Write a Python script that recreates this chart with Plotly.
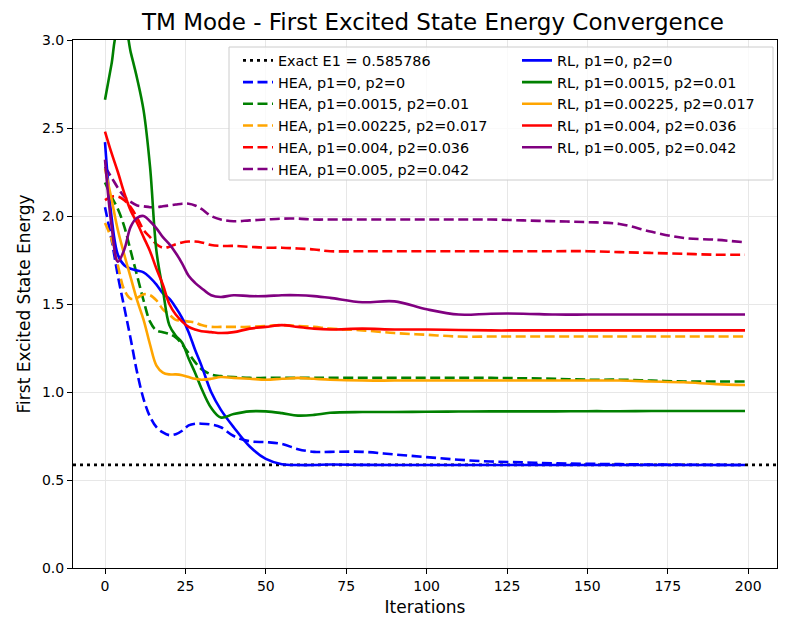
import plotly.graph_objects as go

# ---------------- data ----------------
ITER = [0, 2, 4, 6, 8, 10, 12, 14, 16, 18, 20, 22, 24, 26, 28, 30, 33, 36, 40, 45,
        50, 55, 60, 65, 70, 80, 90, 100, 110, 120, 130, 140, 150, 160, 170, 180, 190, 199]

EXACT_E1 = 0.585786

HEA_0 = [2.05, 1.87, 1.66, 1.48, 1.30, 1.11, 0.96, 0.86, 0.80, 0.77, 0.755, 0.76, 0.78, 0.81,
         0.82, 0.82, 0.815, 0.80, 0.75, 0.72, 0.715, 0.705, 0.675, 0.66, 0.66, 0.66, 0.645,
         0.63, 0.615, 0.605, 0.60, 0.595, 0.592, 0.59, 0.588, 0.587, 0.586, 0.585]
HEA_1 = [2.19, 2.11, 2.04, 1.94, 1.80, 1.66, 1.52, 1.40, 1.35, 1.34, 1.33, 1.31, 1.27, 1.22,
         1.17, 1.13, 1.10, 1.09, 1.085, 1.08, 1.08, 1.08, 1.08, 1.08, 1.08, 1.08, 1.08,
         1.08, 1.08, 1.08, 1.078, 1.075, 1.07, 1.07, 1.065, 1.06, 1.06, 1.06]
HEA_2 = [1.96, 1.87, 1.72, 1.58, 1.53, 1.535, 1.555, 1.55, 1.52, 1.47, 1.44, 1.41, 1.405, 1.40,
         1.395, 1.38, 1.37, 1.37, 1.37, 1.37, 1.375, 1.38, 1.375, 1.37, 1.36, 1.35, 1.335,
         1.325, 1.315, 1.315, 1.315, 1.315, 1.315, 1.315, 1.315, 1.315, 1.315, 1.315]
HEA_3 = [2.09, 2.11, 2.11, 2.09, 2.05, 1.99, 1.92, 1.88, 1.84, 1.82, 1.825, 1.84, 1.85, 1.855,
         1.855, 1.85, 1.835, 1.83, 1.83, 1.825, 1.82, 1.82, 1.815, 1.81, 1.80, 1.80, 1.80,
         1.80, 1.80, 1.80, 1.80, 1.80, 1.80, 1.795, 1.79, 1.785, 1.78, 1.78]
HEA_4 = [2.28, 2.22, 2.16, 2.11, 2.08, 2.06, 2.055, 2.05, 2.05, 2.055, 2.06, 2.065, 2.07, 2.07,
         2.06, 2.04, 2.00, 1.98, 1.97, 1.975, 1.98, 1.985, 1.985, 1.98, 1.98, 1.98, 1.98,
         1.98, 1.98, 1.98, 1.975, 1.97, 1.965, 1.955, 1.91, 1.875, 1.865, 1.85]

RL_0 = [2.42, 2.00, 1.78, 1.72, 1.70, 1.69, 1.68, 1.65, 1.61, 1.56, 1.53, 1.48, 1.42, 1.34,
        1.24, 1.15, 1.00, 0.90, 0.80, 0.69, 0.62, 0.59, 0.585, 0.585, 0.588, 0.586, 0.585,
        0.585, 0.585, 0.585, 0.585, 0.585, 0.585, 0.585, 0.585, 0.585, 0.585, 0.585]
RL_1 = [2.66, 2.86, 3.06, 3.08, 2.93, 2.78, 2.60, 2.28, 1.80, 1.58, 1.38, 1.32, 1.28, 1.19,
        1.11, 1.02, 0.91, 0.855, 0.875, 0.89, 0.89, 0.88, 0.866, 0.87, 0.882, 0.886, 0.886,
        0.888, 0.889, 0.89, 0.89, 0.89, 0.891, 0.891, 0.892, 0.892, 0.892, 0.892]
RL_2 = [2.27, 2.10, 1.92, 1.78, 1.65, 1.52, 1.41, 1.27, 1.15, 1.11, 1.10, 1.10, 1.095, 1.085,
        1.075, 1.07, 1.075, 1.085, 1.08, 1.075, 1.07, 1.075, 1.08, 1.075, 1.07, 1.065, 1.065,
        1.065, 1.065, 1.065, 1.065, 1.065, 1.065, 1.065, 1.06, 1.055, 1.045, 1.04]
RL_3 = [2.48, 2.36, 2.25, 2.13, 2.03, 1.96, 1.88, 1.80, 1.70, 1.61, 1.50, 1.44, 1.40, 1.37,
        1.355, 1.345, 1.34, 1.335, 1.34, 1.36, 1.37, 1.38, 1.37, 1.36, 1.355, 1.36, 1.355,
        1.355, 1.352, 1.35, 1.35, 1.35, 1.35, 1.35, 1.35, 1.35, 1.35, 1.35]
RL_4 = [2.32, 1.95, 1.74, 1.81, 1.94, 1.99, 2.00, 1.97, 1.93, 1.88, 1.84, 1.79, 1.73, 1.66,
        1.62, 1.59, 1.55, 1.54, 1.55, 1.545, 1.545, 1.55, 1.55, 1.545, 1.535, 1.51, 1.515,
        1.47, 1.44, 1.445, 1.445, 1.44, 1.44, 1.44, 1.44, 1.44, 1.44, 1.44]

NOISE_LABELS = ["p1=0, p2=0", "p1=0.0015, p2=0.01", "p1=0.00225, p2=0.017",
                "p1=0.004, p2=0.036", "p1=0.005, p2=0.042"]
COLORS = ["#0000ff", "#008000", "#ffa500", "#ff0000", "#800080"]
HEA = [HEA_0, HEA_1, HEA_2, HEA_3, HEA_4]
RL = [RL_0, RL_1, RL_2, RL_3, RL_4]

TITLE = "TM Mode - First Excited State Energy Convergence"
X_LABEL = "Iterations"
Y_LABEL = "First Excited State Energy"

# ---------------- figure ----------------
W, H = 793, 634
ML, MR, MT, MB = 73, 16, 40, 66
pad = 0.05 * (max(ITER) - min(ITER))
x_range = [min(ITER) - pad, max(ITER) + pad]

FONT = "DejaVu Sans"
fig = go.Figure()

fig.add_trace(go.Scatter(
    x=x_range, y=[EXACT_E1, EXACT_E1], mode="lines",
    line=dict(color="black", width=2.6, dash="3px,4px"),
    name=f"Exact E1 = {EXACT_E1:.6f}", legend="legend"))

for vals, lab, col in zip(HEA, NOISE_LABELS, COLORS):
    fig.add_trace(go.Scatter(
        x=ITER, y=vals, mode="lines", line_shape="spline",
        line=dict(color=col, width=2.6, dash="10px,4.5px", smoothing=1.0),
        name=f"HEA, {lab}", legend="legend"))

for vals, lab, col in zip(RL, NOISE_LABELS, COLORS):
    fig.add_trace(go.Scatter(
        x=ITER, y=vals, mode="lines", line_shape="spline",
        line=dict(color=col, width=2.6, smoothing=1.0),
        name=f"RL, {lab}", legend="legend2"))

pw = W - ML - MR
ph = H - MT - MB


def px_x(p):
    return (p - ML) / pw


def px_y(p):
    return (H - MB - p) / ph


legend_common = dict(
    bgcolor="rgba(0,0,0,0)", borderwidth=0,
    font=dict(family=FONT, size=14.4, color="black"),
    itemwidth=30, tracegroupgap=0, yanchor="top", xanchor="left",
    itemclick=False,
)

fig.update_layout(
    width=W, height=H,
    margin=dict(l=ML, r=MR, t=MT, b=MB, autoexpand=False),
    paper_bgcolor="white", plot_bgcolor="white",
    font=dict(family=FONT, size=14, color="black"),
    title=dict(text=TITLE, x=(433 - ML) / pw, xref="paper", xanchor="center",
               y=1 - 22 / H, yref="container", yanchor="middle",
               font=dict(family=FONT, size=23, color="black")),
    legend=dict(x=px_x(238), y=px_y(44.5), **legend_common),
    legend2=dict(x=px_x(517), y=px_y(44.5), **legend_common),
    showlegend=True,
    shapes=[dict(type="rect", xref="paper", yref="paper",
                 x0=px_x(229), x1=px_x(773), y0=px_y(180), y1=px_y(47),
                 fillcolor="rgba(255,255,255,0.8)",
                 line=dict(color="#cccccc", width=1), layer="above")],
)

axis_common = dict(
    showline=True, linecolor="black", linewidth=1, mirror=True,
    ticks="outside", ticklen=5, tickwidth=1, tickcolor="black",
    showgrid=True, gridcolor="#e7e7e7", gridwidth=1, zeroline=False,
    automargin=False,
    tickfont=dict(family=FONT, size=14, color="black"),
)

fig.update_xaxes(range=x_range, tickmode="linear", tick0=0, dtick=25,
                 title=dict(text=X_LABEL, font=dict(family=FONT, size=17, color="black"),
                            standoff=8),
                 **axis_common)
fig.update_yaxes(range=[0, 3.0], tickmode="linear", tick0=0, dtick=0.5, tickformat=".1f",
                 title=dict(text=Y_LABEL, font=dict(family=FONT, size=17, color="black"),
                            standoff=6),
                 **axis_common)

fig.write_html("out.html", config={"displayModeBar": False},
               post_script="document.body.style.margin='0';")
